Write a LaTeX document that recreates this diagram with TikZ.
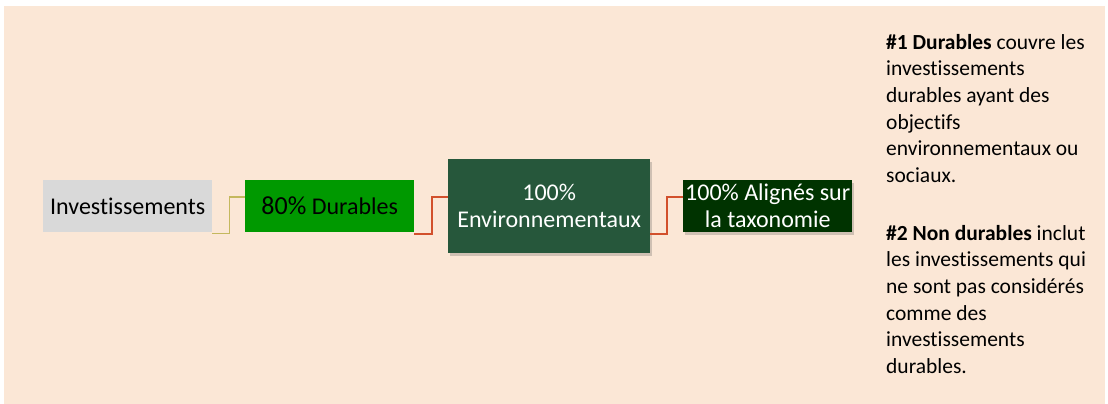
\documentclass[tikz,border=0pt]{standalone}
\usepackage{fontspec}
\setmainfont{Carlito}[Ligatures=CommonOff]
\usetikzlibrary{shadows}
\definecolor{bgpeach}{HTML}{FBE7D6}
\definecolor{boxgray}{HTML}{D9D9D9}
\definecolor{boxgreen}{HTML}{009900}
\definecolor{boxenv}{HTML}{26573B}
\definecolor{boxtax}{HTML}{003300}
\definecolor{lineolive}{HTML}{C4B85E}
\definecolor{linered}{HTML}{D2502C}
\tikzset{
  box/.style={inner sep=0pt, anchor=north west, align=center,
    font=\fontsize{24}{27}\selectfont},
  shad/.style={drop shadow={shadow xshift=2pt, shadow yshift=-3pt, opacity=0.25, fill=black!70}},
  conn1/.style={draw=lineolive, line width=1.6pt},
  conn2/.style={draw=linered, line width=2pt},
  para/.style={inner sep=0pt, anchor=north west, align=left,
    font=\fontsize{21.5}{26.6}\selectfont}
}
\begin{document}
\begin{tikzpicture}[x=1pt,y=-1pt]
\useasboundingbox (0,0) rectangle (1108,404);
\fill[bgpeach] (4,6) rectangle (1105,404);

\node[box, fill=boxgray, minimum width=169pt, minimum height=52pt] (inv) at (43,180) {Investissements};
\node[box, fill=boxgreen, minimum width=169pt, minimum height=52pt] (dur) at (245,180)
  {{\fontsize{26}{27}\selectfont 80\%} Durables};
\node[box, shad, fill=boxenv, text=white, minimum width=202pt, minimum height=94pt] (env) at (448,159)
  {100\%\\Environnementaux};
\node[box, shad, fill=boxtax, text=white, minimum width=169pt, minimum height=52pt] (tax) at (683,180)
  {100\% Alignés sur\\la taxonomie};

\draw[conn1] ([yshift=-1pt]inv.south east) -- ++(17,0) |- ([yshift=9pt]dur.west);
\draw[conn2] ([yshift=-2pt]dur.south east) -- ++(18,0) |- ([yshift=9pt]env.west);
\draw[conn2] ([yshift=19pt]env.south east) -- ++(17,0) |- ([yshift=9pt]tax.west);

\node[para] (p1) at (886,34) {\textbf{\#1 Durables} couvre les\\investissements\\durables ayant des\\objectifs\\environnementaux ou\\sociaux.};
\node[para] (p2) at (886,225) {\textbf{\#2 Non durables} inclut\\les investissements qui\\ne sont pas considérés\\comme des\\investissements\\durables.};
\end{tikzpicture}
\end{document}
